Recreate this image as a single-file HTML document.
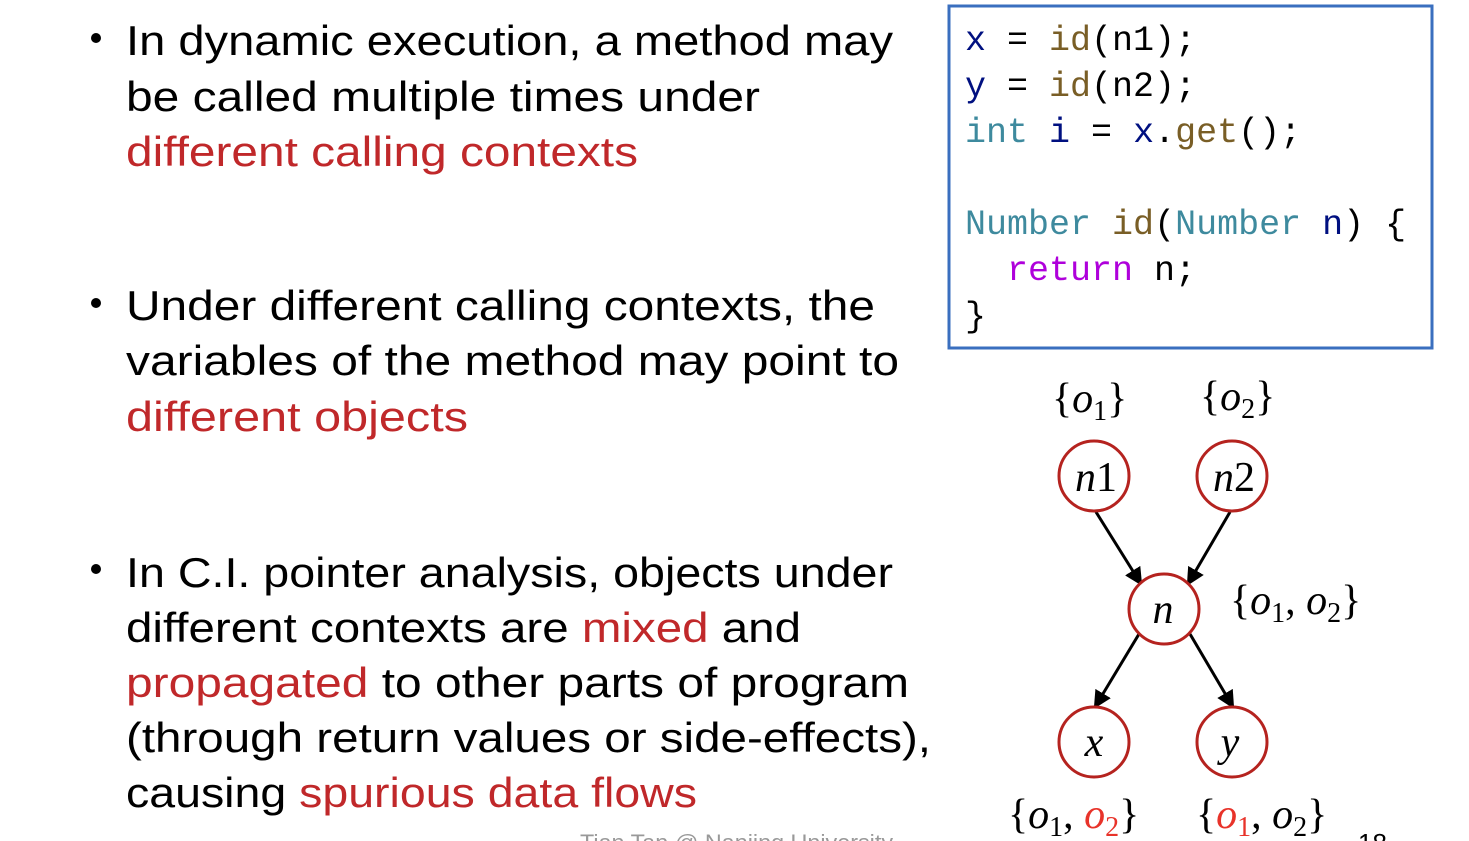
<!DOCTYPE html>
<html><head><meta charset="utf-8"><style>
html,body{margin:0;padding:0;background:#fff;width:1469px;height:841px;overflow:hidden}
svg{display:block}
.t{font-family:"Liberation Sans",sans-serif;font-size:42px;fill:#000}
.r{fill:#C0282A}
.c{font-family:"Liberation Mono",monospace;font-size:35px;fill:#000}
.m{font-family:"Liberation Serif",serif;font-size:42px;fill:#000}
.i{font-style:italic}
.s{font-size:28px}
.red{fill:#E8332A}
</style></head><body>
<svg width="1469" height="841" xmlns="http://www.w3.org/2000/svg">
<defs><marker id="a" markerWidth="18" markerHeight="18" refX="14" refY="8" orient="auto" markerUnits="userSpaceOnUse" viewBox="0 0 16 16"><path d="M0,0 L16,8 L0,16 z" fill="#000"/></marker></defs>
<g class="t">
<circle cx="96" cy="38" r="5" fill="#000"/>
<text x="126" y="55" textLength="767" lengthAdjust="spacingAndGlyphs">In dynamic execution, a method may</text>
<text x="126" y="111" textLength="634" lengthAdjust="spacingAndGlyphs">be called multiple times under</text>
<text x="126" y="166" textLength="512" lengthAdjust="spacingAndGlyphs" class="r">different calling contexts</text>
<circle cx="96" cy="303" r="5" fill="#000"/>
<text x="126" y="320" textLength="749" lengthAdjust="spacingAndGlyphs">Under different calling contexts, the</text>
<text x="126" y="375" textLength="773" lengthAdjust="spacingAndGlyphs">variables of the method may point to</text>
<text x="126" y="431" textLength="342" lengthAdjust="spacingAndGlyphs" class="r">different objects</text>
<circle cx="96" cy="569" r="5" fill="#000"/>
<text x="126" y="587" textLength="767" lengthAdjust="spacingAndGlyphs">In C.I. pointer analysis, objects under</text>
<text x="126" y="642" textLength="675" lengthAdjust="spacingAndGlyphs">different contexts are <tspan class="r">mixed</tspan> and</text>
<text x="126" y="697" textLength="783" lengthAdjust="spacingAndGlyphs"><tspan class="r">propagated</tspan> to other parts of program</text>
<text x="126" y="752" textLength="805" lengthAdjust="spacingAndGlyphs">(through return values or side-effects),</text>
<text x="126" y="807" textLength="571" lengthAdjust="spacingAndGlyphs">causing <tspan class="r">spurious data flows</tspan></text>
</g>
<text x="580" y="850" font-family="Liberation Sans,sans-serif" font-size="22" fill="#999" textLength="313" lengthAdjust="spacingAndGlyphs">Tian Tan @ Nanjing University</text>
<text x="1358" y="852" font-family="Liberation Sans,sans-serif" font-size="26" fill="#000">18</text>
<rect x="949" y="6" width="483" height="342" fill="none" stroke="#3A6FBF" stroke-width="3"/>
<g class="c">
<text x="965" y="50"><tspan fill="#001080">x</tspan> = <tspan fill="#795E26">id</tspan>(n1);</text>
<text x="965" y="96"><tspan fill="#001080">y</tspan> = <tspan fill="#795E26">id</tspan>(n2);</text>
<text x="965" y="142"><tspan fill="#3E8A9E">int</tspan> <tspan fill="#001080">i</tspan> = <tspan fill="#001080">x</tspan>.<tspan fill="#795E26">get</tspan>();</text>
<text x="965" y="234"><tspan fill="#3E8A9E">Number</tspan> <tspan fill="#795E26">id</tspan>(<tspan fill="#3E8A9E">Number</tspan> <tspan fill="#001080">n</tspan>) {</text>
<text x="1007" y="280"><tspan fill="#AF00DB">return</tspan> n;</text>
<text x="965" y="326">}</text>
</g>
<g stroke="#000" stroke-width="3" marker-end="url(#a)">
<line x1="1096" y1="512" x2="1141" y2="584"/>
<line x1="1230" y1="512" x2="1188" y2="584"/>
<line x1="1139" y1="634" x2="1095" y2="707"/>
<line x1="1190" y1="634" x2="1233" y2="707"/>
</g>
<g fill="#fff" stroke="#B5231F" stroke-width="3">
<circle cx="1094" cy="476" r="35"/><circle cx="1232" cy="476" r="35"/>
<circle cx="1164" cy="609" r="35"/>
<circle cx="1094" cy="742" r="35"/><circle cx="1232" cy="742" r="35"/>
</g>
<g class="m" text-anchor="middle">
<text x="1096" y="491"><tspan class="i">n</tspan>1</text>
<text x="1234" y="491"><tspan class="i">n</tspan>2</text>
<text x="1163" y="623" class="m i">n</text>
<text x="1094" y="756" class="m i">x</text>
<text x="1230" y="756" class="m i">y</text>
</g>
<g class="m">
<text x="1052" y="412">{<tspan class="i">o</tspan><tspan class="s" dy="8">1</tspan><tspan dy="-8">}</tspan></text>
<text x="1200" y="410">{<tspan class="i">o</tspan><tspan class="s" dy="8">2</tspan><tspan dy="-8">}</tspan></text>
<text x="1230" y="614">{<tspan class="i">o</tspan><tspan class="s" dy="8">1</tspan><tspan dy="-8">, </tspan><tspan class="i">o</tspan><tspan class="s" dy="8">2</tspan><tspan dy="-8">}</tspan></text>
<text x="1008" y="828">{<tspan class="i">o</tspan><tspan class="s" dy="8">1</tspan><tspan dy="-8">, </tspan><tspan class="i red">o</tspan><tspan class="s red" dy="8">2</tspan><tspan dy="-8">}</tspan></text>
<text x="1196" y="828">{<tspan class="i red">o</tspan><tspan class="s red" dy="8">1</tspan><tspan dy="-8">, </tspan><tspan class="i">o</tspan><tspan class="s" dy="8">2</tspan><tspan dy="-8">}</tspan></text>
</g>
</svg>
</body></html>
